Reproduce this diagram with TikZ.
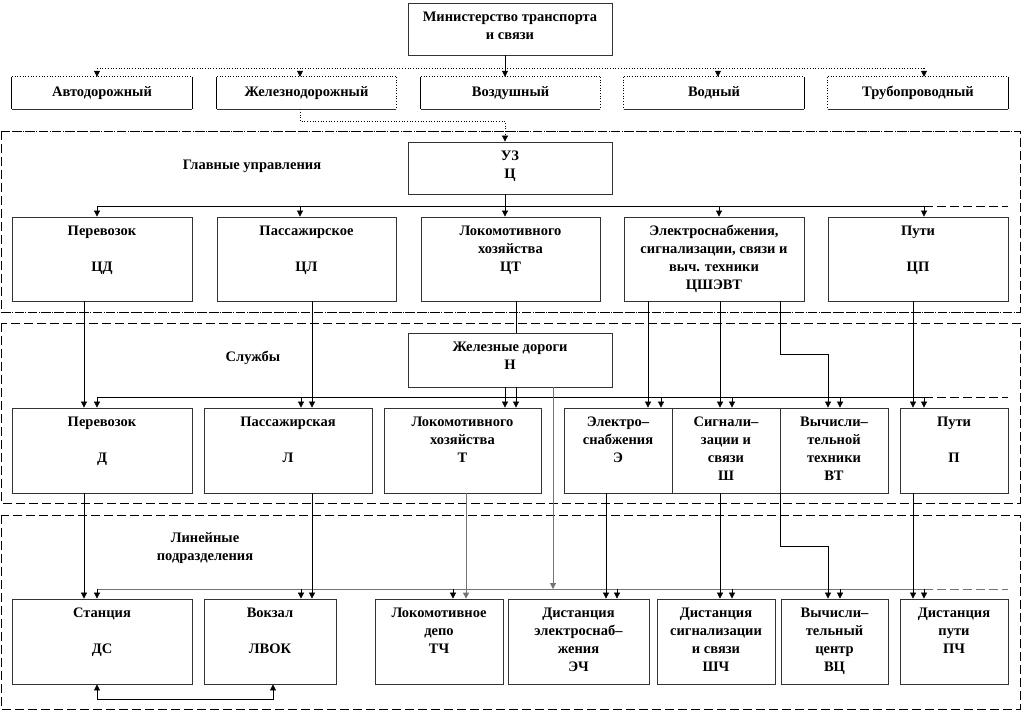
\documentclass[tikz,border=0pt]{standalone}
\usepackage{fontspec}
\setmainfont{Liberation Serif}
\usetikzlibrary{arrows.meta,calc}
\tikzset{
  box/.style={draw=black!80, line width=0.8pt, inner sep=0pt, rectangle},
  nobox/.style={inner sep=0pt, rectangle},
  txt/.style={font=\bfseries\fontsize{14.5}{18}\selectfont, align=center, inner sep=0pt},
  ln/.style={line width=0.7pt},
  gln/.style={draw=black!55, line width=1pt},
  tip/.style={-{Triangle[width=6pt,length=6pt]}},
  arr/.style={ln, tip},
  garr/.style={gln, -{Triangle[width=6pt,length=6pt]}},
  dot/.style={line width=0.7pt, dotted},
  sect/.style={line width=0.8pt, dash pattern=on 9pt off 4pt},
  dext/.style={line width=0.8pt, dash pattern=on 9pt off 4pt}
}
\newcommand\bxx[6]{%
  \node[box, minimum width={#4-#2}, minimum height={#5-#3}] (#1) at ({(#2+#4)/2},{(#3+#5)/2}) {};
  \node[txt, anchor=north] (#1t) at ([yshift=-6]#1.north) {\strut #6};}
\newcommand\bxc[6]{%
  \node[nobox, minimum width={#4-#2}, minimum height={#5-#3}] (#1) at ({(#2+#4)/2},{(#3+#5)/2}) {};
  \node[txt] (#1t) at (#1.center) {#6};}
\begin{document}
\begin{tikzpicture}[x=1pt, y=-1pt]
\useasboundingbox (0,0) rectangle (1022,710);

% sections
\draw[sect] (1,131) rectangle (1020,312);
\draw[dot] (1,131) -- (1020,131);
\draw[dot] (1,312) -- (1020,312);
\draw[sect] (1,323) rectangle (1020,503);
\draw[sect] (1,515) rectangle (1020,709);
\node[txt] (lab1) at (252,166) {Главные управления};
\node[txt] (lab2) at (253,358) {Службы};
\node[txt] (lab3) at (205,548) {Линейные\\подразделения};

% ministry
\bxx{Min}{408}{3}{612}{55}{Министерство транспорта\\и связи}

% top row
\bxc{Avt}{12}{77}{192}{109}{Автодорожный}
\bxc{Zhd}{217}{77}{396}{109}{Железнодорожный}
\bxc{Voz}{421}{77}{600}{109}{Воздушный}
\bxc{Vod}{624}{77}{804}{109}{Водный}
\bxc{Tru}{828}{77}{1008}{109}{Трубопроводный}
% edges of top row boxes
\foreach \n in {Avt,Zhd,Voz,Vod,Tru}{
  \draw[dot] (\n.north west) -- (\n.north east);
  \draw[ln, draw=black!80] (\n.south west) -- (\n.south east);
}
\draw[ln] (Avt.north west) -- (Avt.south west);
\draw[ln] (Avt.north east) -- (Avt.south east);
\draw[ln] (Zhd.north west) -- (Zhd.south west);
\draw[dot] (Zhd.north east) -- (Zhd.south east);
\draw[ln] (Voz.north west) -- (Voz.south west);
\draw[dot] (Voz.north east) -- (Voz.south east);
\draw[dot] (Vod.north west) -- (Vod.south west);
\draw[ln] (Vod.north east) -- (Vod.south east);
\draw[dot] (Tru.north west) -- (Tru.south west);
\draw[ln] (Tru.north east) -- (Tru.south east);

% ministry connectors
\coordinate (b0L) at (97,68);
\coordinate (b0R) at (924,68);
\draw[dot] (b0L) -- (b0R);
\draw[arr] (Min.south -| 505,0) -- (Voz.north -| 505,0);
\draw[dot, tip] (b0L) -- (Avt.north -| b0L);
\draw[dot, tip] (300,68) -- (Zhd.north -| 300,0);
\draw[dot, tip] (718,68) -- (Vod.north -| 718,0);
\draw[dot, tip] (b0R) -- (Tru.north -| b0R);

% UZ
\bxx{UZ}{408}{142}{612}{194}{УЗ\\Ц}
\draw[dot, tip] (Zhd.south -| 300,0) -- (300,121) -| (UZ.north -| 505,0);

% row 3
\bxx{CD}{12}{217}{192}{301}{Перевозок\\[18pt]ЦД}
\bxx{CL}{217}{217}{396}{301}{Пассажирское\\[18pt]ЦЛ}
\bxx{CT}{421}{217}{600}{301}{Локомотивного\\хозяйства\\ЦТ}
\bxx{CSh}{624}{217}{804}{301}{Электроснабжения,\\сигнализации, связи и\\выч. техники\\ЦШЭВТ}
\bxx{CP}{828}{217}{1008}{301}{Пути\\[18pt]ЦП}

\coordinate (b1L) at (97,206);
\coordinate (b1R) at (924,206);
\coordinate (b1E) at (1008,206);
\draw[ln] (UZ.south -| 505,0) -- (505,206);
\draw[ln] (b1L) -- (b1R);
\draw[dext] (b1R) -- (b1E);
\draw[arr] (b1L) -- (CD.north -| b1L);
\draw[arr] (300,206) -- (CL.north -| 300,0);
\draw[arr] (505,206) -- (CT.north -| 505,0);
\draw[arr] (719,206) -- (CSh.north -| 719,0);
\draw[arr] (b1R) -- (CP.north -| b1R);

% N box
\bxx{N}{408}{333}{612}{387}{Железные дороги\\Н}

% row 4
\bxx{D}{12}{408}{192}{493}{Перевозок\\[18pt]Д}
\bxx{L}{204}{408}{372}{493}{Пассажирская\\[18pt]Л}
\bxx{T}{384}{408}{541}{493}{Локомотивного\\хозяйства\\Т}
\bxx{E}{564}{408}{672}{493}{Электро–\\снабжения\\Э}
\bxx{Sh}{672}{408}{780}{493}{Сигнали–\\зации и\\связи\\Ш}
\bxx{VT}{780}{408}{888}{493}{Вычисли–\\тельной\\техники\\ВТ}
\bxx{P}{900}{408}{1008}{493}{Пути\\[18pt]П}

% row3 -> row4
\draw[arr] (CD.south -| 84,0) -- (D.north -| 84,0);
\draw[arr] (CL.south -| 312,0) -- (L.north -| 312,0);
\draw[ln] (CT.south -| 516,0) -- (N.north -| 516,0);
\draw[arr] (CSh.south -| 648,0) -- (E.north -| 648,0);
\draw[arr] (CSh.south -| 720,0) -- (Sh.north -| 720,0);
\draw[arr] (CSh.south -| 780,0) -- (780,354) -| (VT.north -| 828,0);
\draw[arr] (CP.south -| 913,0) -- (P.north -| 913,0);

\coordinate (b2L) at (97,397);
\coordinate (b2R) at (924,397);
\coordinate (b2E) at (1008,397);
\draw[ln] (b2L) -- (b2R);
\draw[dext] (b2R) -- (b2E);
\draw[arr] (N.south -| 505,0) -- (T.north -| 505,0);
\draw[arr] (N.south -| 516,0) -- (T.north -| 516,0);
\draw[arr] (b2L) -- (D.north -| b2L);
\draw[arr] (301,397) -- (L.north -| 301,0);
\draw[arr] (661,397) -- (E.north -| 661,0);
\draw[arr] (732,397) -- (Sh.north -| 732,0);
\draw[arr] (840,397) -- (VT.north -| 840,0);
\draw[arr] (b2R) -- (P.north -| b2R);

% row 5
\bxx{DS}{12}{599}{192}{684}{Станция\\[18pt]ДС}
\bxx{LV}{204}{599}{336}{684}{Вокзал\\[18pt]ЛВОК}
\bxx{TCh}{375}{599}{503}{684}{Локомотивное\\депо\\ТЧ}
\bxx{ECh}{508}{599}{649}{684}{Дистанция\\электроснаб–\\жения\\ЭЧ}
\bxx{ShCh}{657}{599}{775}{684}{Дистанция\\сигнализации\\и связи\\ШЧ}
\bxx{VC}{781}{599}{888}{684}{Вычисли–\\тельный\\центр\\ВЦ}
\bxx{PCh}{900}{599}{1008}{684}{Дистанция\\пути\\ПЧ}

\coordinate (b3L) at (97,589);
\coordinate (b3R) at (924,589);
\coordinate (b3E) at (1008,589);
\draw[gln] (b3L) -- (b3R);
\draw[gln, dash pattern=on 9pt off 4pt] (b3R) -- (b3E);
\draw[garr] (N.south -| 553,0) -- (553,589);

% row4 -> row5
\draw[arr] (D.south -| 84,0) -- (DS.north -| 84,0);
\draw[arr] (L.south -| 312,0) -- (LV.north -| 312,0);
\draw[garr] (T.south -| 466,0) -- (TCh.north -| 466,0);
\draw[arr] (E.south -| 606,0) -- (ECh.north -| 606,0);
\draw[arr] (Sh.south -| 720,0) -- (ShCh.north -| 720,0);
\draw[arr] (VT.south -| 780,0) -- (780,546) -| (VC.north -| 828,0);
\draw[arr] (P.south -| 913,0) -- (PCh.north -| 913,0);

\draw[arr] (b3L) -- (DS.north -| b3L);
\draw[arr] (301,589) -- (LV.north -| 301,0);
\draw[arr] (453,589) -- (TCh.north -| 453,0);
\draw[arr] (617,589) -- (ECh.north -| 617,0);
\draw[arr] (732,589) -- (ShCh.north -| 732,0);
\draw[arr] (840,589) -- (VC.north -| 840,0);
\draw[arr] (b3R) -- (PCh.north -| b3R);

% bottom two-way
\draw[ln, {Triangle[width=6pt,length=6pt]}-{Triangle[width=6pt,length=6pt]}] (DS.south -| 97,0) -- (97,699) -- (273,699) -- (LV.south -| 273,0);
\end{tikzpicture}
\end{document}
